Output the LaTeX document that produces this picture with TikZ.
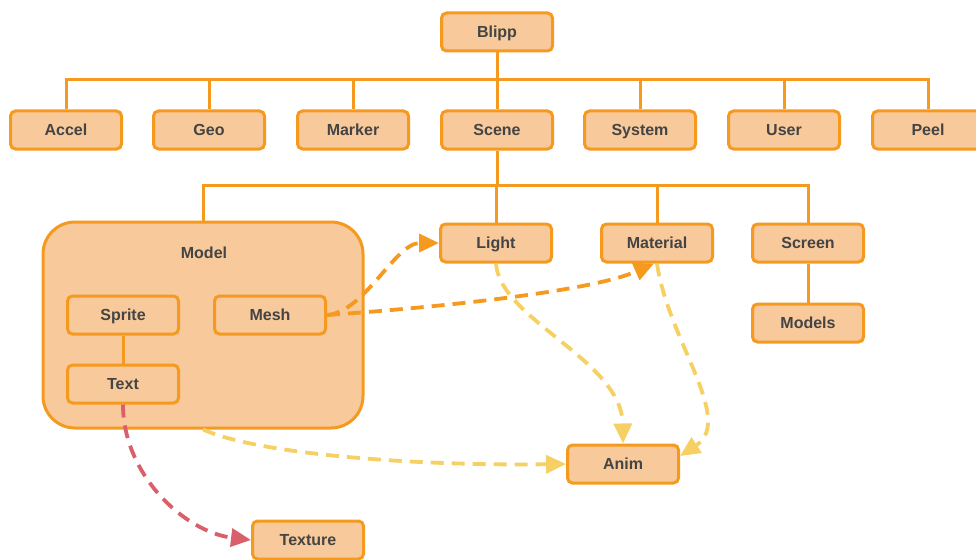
\documentclass[tikz,border=0pt]{standalone}
\usepackage{fontspec}
\setmainfont{Liberation Sans}
\usetikzlibrary{arrows.meta}
\definecolor{bord}{HTML}{F59A1F}
\definecolor{boxfill}{HTML}{F8C99B}
\definecolor{txt}{HTML}{444444}
\definecolor{ylw}{HTML}{F7D064}
\definecolor{rd}{HTML}{D9606A}
\tikzset{
  box/.style={draw=bord, fill=boxfill, line width=3pt, rounded corners=5pt,
    minimum width=111pt, minimum height=38pt, inner sep=0pt,
    text height=11.5pt, text depth=0pt,
    text=txt, font=\fontsize{16}{19}\selectfont\bfseries},
  tree/.style={draw=bord, line width=3pt},
  dep/.style={line width=3.8pt, dash pattern=on 13pt off 8pt,
    -{Triangle[length=20pt,width=18pt]}},
}
\begin{document}
\begin{tikzpicture}[x=1pt,y=-1pt]
\clip (0,0) rectangle (976,559);
\fill[white] (0,0) rectangle (976,559);
% top level
\node[box] (blipp) at (497,32) {Blipp};
\node[box] (accel) at (66,130) {Accel};
\node[box] (geo) at (209,130) {Geo};
\node[box] (marker) at (353,130) {Marker};
\node[box] (scene) at (497,130) {Scene};
\node[box] (system) at (640,130) {System};
\node[box] (user) at (784,130) {User};
\node[box] (peel) at (928,130) {Peel};
\coordinate (bus) at (0,80);
\coordinate (bus2) at (0,185);
% scene children
\node[box, minimum width=320pt, minimum height=206pt, rounded corners=32pt] (model) at (203,325) {};
\node[text=txt, font=\fontsize{16}{19}\selectfont\bfseries, text height=11.5pt, text depth=0pt] (modellbl) at (204,253) {Model};
\node[box] (light) at (496,243) {Light};
\node[box] (material) at (657,243) {Material};
\node[box] (screen) at (808,243) {Screen};
\node[box] (models) at (808,323) {Models};
\node[box] (sprite) at (123,315) {Sprite};
\node[box] (mesh) at (270,315) {Mesh};
\node[box] (text) at (123,384) {Text};
\node[box] (anim) at (623,464) {Anim};
\node[box] (texture) at (308,540) {Texture};
% tree lines
\draw[tree] (blipp.south) -- (blipp.south |- bus);
\draw[tree] (accel.north) -- (accel.north |- bus) -- (peel.north |- bus) -- (peel.north);
\foreach \n in {geo,marker,scene,system,user}
  \draw[tree] (\n.north) -- (\n.north |- bus);
\draw[tree] (scene.south) -- (scene.south |- bus2);
\draw[tree] (model.north) -- (model.north |- bus2) -- (screen.north |- bus2) -- (screen.north);
\draw[tree] (light.north) -- (light.north |- bus2);
\draw[tree] (material.north) -- (material.north |- bus2);
\draw[tree] (screen.south) -- (models.north);
\draw[tree] (sprite.south) -- (text.north);
% dependencies
\draw[dep, draw=ylw] (light.south) .. controls (500,320) and (622,360) .. (anim.north);
\draw[dep, draw=ylw] (material.south) .. controls (668,340) and (735,420) .. ([yshift=8pt]anim.east);
\draw[dep, draw=ylw] (model.south) .. controls (260,455) and (420,466) .. (anim.west);
\draw[dep, draw=bord] (mesh.east) .. controls (365,312) and (395,243) .. (light.west);
\draw[dep, draw=bord] (mesh.east) .. controls (430,308) and (590,292) .. ([xshift=-3pt]material.south);
\draw[dep, draw=rd] (text.south) .. controls (123,475) and (185,532) .. (texture.west);
\end{tikzpicture}
\end{document}
